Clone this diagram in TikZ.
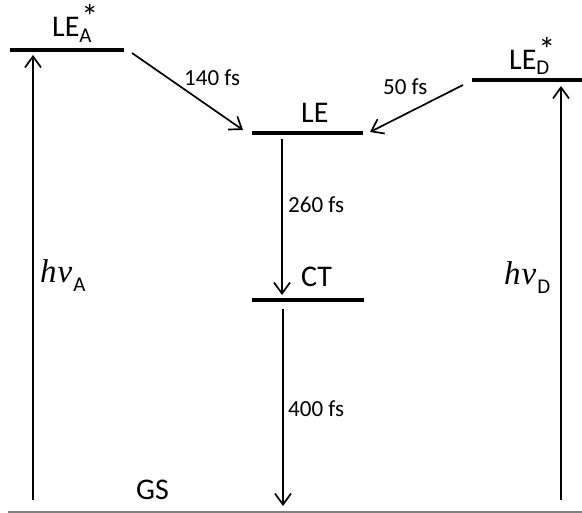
\documentclass[tikz,border=0pt]{standalone}
\usepackage{fontspec}
\setmainfont{Carlito}
\newfontfamily\photonfont{Liberation Serif}
\usetikzlibrary{arrows.meta}
\newcommand{\subfont}{\fontsize{21}{21}\selectfont}
\newcommand{\starmark}{\makebox[0pt][l]{\hspace{2pt}\raisebox{8pt}{\fontsize{34}{34}\selectfont *}}}
\newcommand{\hnutext}{{\photonfont\itshape h\kern1pt ν}}
\begin{document}
\begin{tikzpicture}[x=1pt,y=-1pt,
  level/.style={line width=4pt},
  trans/.style={line width=1.7pt,-{Straight Barb[length=11pt,width=16pt,line width=1.7pt]}},
  lbl/.style={inner sep=0pt,anchor=base west,font=\fontsize{30}{30}\selectfont},
  tlbl/.style={inner sep=0pt,anchor=base west,font=\fontsize{23}{24}\selectfont},
  hnu/.style={inner sep=0pt,anchor=base west,font=\fontsize{33}{33}\selectfont}]
\useasboundingbox (0,0) rectangle (582,513);

% energy levels
\coordinate (laL) at (10,50);  \coordinate (laR) at (124,50);
\coordinate (ldL) at (472,80); \coordinate (ldR) at (582,80);
\coordinate (leL) at (252,133); \coordinate (leR) at (363,133);
\coordinate (ctL) at (252,300); \coordinate (ctR) at (364,300);
\draw[level] (laL) -- (laR);
\draw[level] (ldL) -- (ldR);
\draw[level] (leL) -- (leR);
\draw[level] (ctL) -- (ctR);

% ground state baseline
\coordinate (gsL) at (8,512); \coordinate (gsR) at (582,512);
\draw[line width=1.5pt,gray] (gsL) -- (gsR);

% level labels
\node[lbl] (tLa) at (52,37) {LE\starmark\raisebox{-6pt}{\subfont A}};
\node[lbl] (tLd) at (509,70) {LE\starmark\raisebox{-5pt}{\subfont D}};
\node[lbl] (tLe) at (301,123) {LE};
\node[lbl] (tCt) at (301,287) {CT};
\node[lbl] (tGs) at (136,500) {GS};

% photon absorption
\coordinate (aBot) at (33,500); \coordinate (aTop) at (33,55);
\coordinate (dBot) at (561,500); \coordinate (dTop) at (561,86);
\draw[trans] (aBot) -- (aTop);
\draw[trans] (dBot) -- (dTop);
\node[hnu] (hA) at (40,283) {\hnutext\kern1pt\raisebox{-9pt}{\subfont A}};
\node[hnu] (hD) at (504,285) {\hnutext\kern1pt\raisebox{-9pt}{\subfont D}};

% relaxation pathways
\coordinate (s1) at (132,53);  \coordinate (e1) at (243,130);
\coordinate (s2) at (463,85);  \coordinate (e2) at (370,132);
\coordinate (s3) at (282,139); \coordinate (e3) at (282,295);
\coordinate (s4) at (283,309); \coordinate (e4) at (283,506);
\draw[trans] (s1) -- (e1);
\draw[trans] (s2) -- (e2);
\draw[trans] (s3) -- (e3);
\draw[trans] (s4) -- (e4);
\node[tlbl] (t1) at (184,86) {140 fs};
\node[tlbl] (t2) at (383,95) {50 fs};
\node[tlbl] (t3) at (288,213) {260 fs};
\node[tlbl] (t4) at (288,417) {400 fs};
\end{tikzpicture}
\end{document}
